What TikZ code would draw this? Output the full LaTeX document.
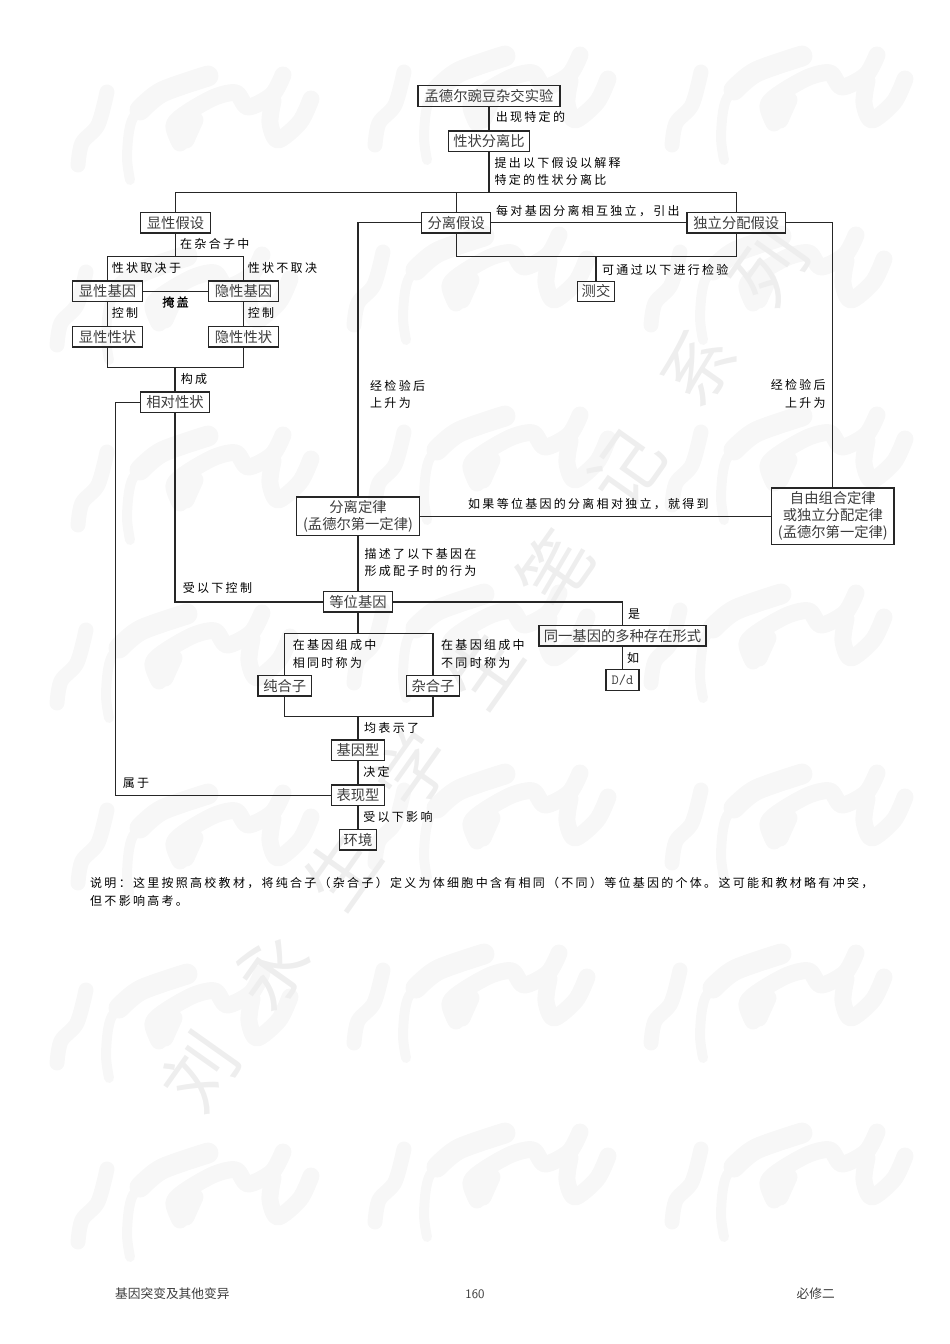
\documentclass[tikz,border=0pt]{standalone}
\usepackage{fontspec}
\setmainfont{Liberation Serif}
\newfontfamily\cjkbox{Noto Sans CJK SC}
\newfontfamily\cjklbl[LetterSpace=19]{Noto Sans CJK SC}
\newfontfamily\cjkbold[LetterSpace=19,FakeBold=1.2]{Noto Sans CJK SC}
\newfontfamily\cjkmark[LetterSpace=71]{Noto Sans CJK SC}
\usetikzlibrary{positioning,calc}
\definecolor{inkbox}{HTML}{3C3C3C}
\definecolor{markgray}{HTML}{F7F7F7}
\definecolor{textmark}{HTML}{EEEEEE}
\tikzset{
    box/.style={draw=black!85, line width=1.4pt, inner sep=0pt, outer sep=0pt, minimum height=20.5pt, align=center,
        text=inkbox, font={\fontsize{14.3}{17}\cjkbox}},
    lbl/.style={inner sep=0pt, align=left, text height=9.5pt, text depth=2pt,
        font={\fontsize{12}{17.5}\cjklbl}},
    lbltwo/.style={lbl, text height=27pt},
    link/.style={draw=black!85, line width=1.2pt},
    stroke/.style={draw=markgray, line width=17pt, line cap=round, line join=round},
    seal/.pic={
        \draw[stroke, line width=15pt] plot[smooth] coordinates {(37,-27) (28,-60) (12,-78) (8,-100)};
        \draw[stroke, line width=10pt] plot[smooth] coordinates {(60,-115) (57,-90) (63,-53) (92,-28)};
        \draw[stroke, line width=21pt] plot[smooth] coordinates {(70,-45) (92,-27) (138,-11)};
        \draw[stroke] plot[smooth] coordinates {(110,-78) (104,-60) (118,-47) (145,-32) (166,-28) (178,-42) (202,-30) (213,-10)};
        \draw[stroke] plot[smooth] coordinates {(116,-75) (125,-55)};
        \draw[stroke] plot[smooth] coordinates {(241,-34) (230,-57) (208,-75) (200,-58) (203,-36)};
    }
}

\begin{document}
\begin{tikzpicture}[x=1pt, y=1pt]
    \useasboundingbox (0,0) rectangle (950,-1344);

    % background marks
    \foreach \r/\rowy/\shifta in {0/45/70, 1/225/49, 2/405/70, 3/583/49, 4/763/70, 5/943/49, 6/1122/70}{
        \foreach \c in {0,1,2}{
            \pgfmathsetmacro{\colx}{\shifta+297*\c}
            \pgfmathsetmacro{\coly}{\rowy+(\c==0 ? 20 : 0)}
            \pic at (\colx,-\coly) {seal};
        }
    }
    \node[rotate=54.7, text=textmark, font={\fontsize{72}{72}\cjkmark}] (series) at (484,-669) {刘永生学生笔记系列};

    % upper part
    \node[box, minimum width=142pt] (pea) at (489,-96) {孟德尔豌豆杂交实验};
    \node[box, minimum width=81pt, below=24.7pt of pea] (ratio) {性状分离比};
    \coordinate[below=41.3pt of ratio] (bustop);

    \node[box, minimum width=70pt, below=19.7pt of bustop, xshift=-313.5pt] (domhyp) {显性假设};
    \node[box, minimum width=69pt, below=19.7pt of bustop, xshift=-32.8pt] (seghyp) {分离假设};
    \node[box, minimum width=98.7pt, below=19.7pt of bustop, xshift=247.3pt] (indhyp) {独立分配假设};

    \coordinate[below=23.7pt of seghyp] (buslow);
    \node[box, minimum width=37pt, below=24.6pt of buslow, xshift=139.8pt] (testx) {测交};

    % dominant and recessive
    \coordinate[below=23.7pt of domhyp] (busdom);
    \node[box, minimum width=70pt, below=24.3pt of busdom, xshift=-68pt] (domgene) {显性基因};
    \node[box, minimum width=70pt, below=24.3pt of busdom, xshift=68pt] (recgene) {隐性基因};
    \node[box, minimum width=70pt, below=25pt of domgene] (domtrait) {显性性状};
    \node[box, minimum width=70pt, below=25pt of recgene] (rectrait) {隐性性状};
    \coordinate[below=20.7pt of domtrait, xshift=67.5pt] (bustrait);
    \node[box, minimum width=69.5pt, below=24.4pt of bustrait] (pair) {相对性状};
    \coordinate[left=24.6pt of pair.west] (pairleft);

    % laws
    \node[box, minimum width=122.6pt, minimum height=38.7pt, below=264pt of seghyp, xshift=-98.2pt] (seglaw) {分离定律\\(孟德尔第一定律)};
    \node[box, minimum width=122.3pt, minimum height=56.7pt, right=352.4pt of seglaw] (indlaw) {自由组合定律\\或独立分配定律\\(孟德尔第一定律)};

    % alleles
    \node[box, minimum width=69pt, below=56pt of seglaw] (allele) {等位基因};
    \node[box, minimum width=166.7pt, below=13.4pt of allele, xshift=264.5pt] (sameg) {同一基因的多种存在形式};
    \node[box, minimum width=33pt, below=23.7pt of sameg, font={\fontsize{14}{16}\ttfamily}] (dd) {D/d};
    \coordinate[below=21.7pt of allele] (buspure);
    \node[box, minimum width=53.5pt, below=41.7pt of buspure, xshift=-73.3pt] (homo) {纯合子};
    \node[box, minimum width=53.5pt, below=41.7pt of buspure, xshift=75pt] (hetero) {杂合子};
    \coordinate[below=20.7pt of homo, xshift=73.3pt] (busgeno);
    \node[box, minimum width=53pt, below=23.3pt of busgeno] (geno) {基因型};
    \node[box, minimum width=53pt, below=24.6pt of geno] (pheno) {表现型};
    \node[box, minimum width=37pt, below=24pt of pheno] (env) {环境};
    \coordinate (paircorner) at (pair.south |- allele.west);
    \coordinate (phenocorner) at (pairleft |- pheno.west);

    % connectors
    \draw[link] (pea) -- (ratio);
    \draw[link] (ratio) -- (bustop);
    \draw[link] (domhyp.north) |- (bustop) -| (indhyp.north);
    \draw[link] (seghyp.north) -- (seghyp.north |- bustop);
    \draw[link] (seghyp) -- (indhyp);
    \draw[link] (seghyp.south) -- (buslow) -| (indhyp.south);
    \draw[link] (testx.north) -- (testx.north |- buslow);
    \draw[link] (seghyp.west) -| (seglaw.north);
    \draw[link] (indhyp.east) -| (indlaw.north);
    \draw[link] (domhyp.south) -- (busdom);
    \draw[link] (domgene.north) |- (busdom) -| (recgene.north);
    \draw[link] (domgene) -- (recgene);
    \draw[link] (domgene) -- (domtrait);
    \draw[link] (recgene) -- (rectrait);
    \draw[link] (domtrait.south) |- (bustrait) -| (rectrait.south);
    \draw[link] (bustrait) -- (pair.north);
    \draw[link] (pair.west) -- (pairleft) -- (phenocorner) -- (pheno.west);
    \draw[link] (pair.south) -- (paircorner) -- (allele.west);
    \draw[link] (seglaw) -- (indlaw);
    \draw[link] (seglaw) -- (allele);
    \draw[link] (allele.east) -| (sameg.north);
    \draw[link] (sameg) -- (dd);
    \draw[link] (allele.south) -- (buspure);
    \draw[link] (homo.north) |- (buspure) -| (hetero.north);
    \draw[link] (homo.south) |- (busgeno) -| (hetero.south);
    \draw[link] (busgeno) -- (geno.north);
    \draw[link] (geno) -- (pheno);
    \draw[link] (pheno) -- (env);

    % labels
    \node[lbl, below right=5.7pt and 6.7pt of pea.south] (lblappear) {出现特定的};
    \node[lbltwo, below right=6pt and 5.3pt of ratio.south] (lblpropose) {提出以下假设以解释\\特定的性状分离比};
    \node[lbl, above right=5.5pt and 5.3pt of seghyp.east] (lbleach) {每对基因分离相互独立，引出};
    \node[lbl, above right=4.3pt and 6pt of testx.north] (lbltest) {可通过以下进行检验};
    \node[lbl, below right=5.5pt and 4.5pt of domhyp.south] (lblhetero) {在杂合子中};
    \node[lbl, above right=6.5pt and 4.2pt of domgene.north] (lbldepend) {性状取决于};
    \node[lbl, above right=6.5pt and 4.2pt of recgene.north] (lblnotdep) {性状不取决};
    \node[lbl, below right=6.7pt and 4.2pt of domgene.south] (lblctrla) {控制};
    \node[lbl, below right=6.7pt and 4.2pt of recgene.south] (lblctrlb) {控制};
    \node[lbl, below=5.7pt of $(domgene.east)!.5!(recgene.west)$, font={\fontsize{12}{17}\cjkbold}] (lblcover) {掩盖};
    \node[lbl, above right=6.2pt and 5.7pt of pair.north] (lblform) {构成};
    \node[lbltwo, above right=87pt and 12pt of seglaw.north] (lblriseb) {经检验后\\上升为};
    \node[lbltwo, above left=78.3pt and 7pt of indlaw.north, align=right] (lblrisea) {经检验后\\上升为};
    \node[lbl, above right=5.7pt and 48.7pt of seglaw.east] (lblif) {如果等位基因的分离相对独立，就得到};
    \node[lbltwo, below right=13pt and 6.3pt of seglaw.south] (lbldescribe) {描述了以下基因在\\形成配子时的行为};
    \node[lbl, above right=7pt and 7.7pt of paircorner] (lblcontrol) {受以下控制};
    \node[lbl, above right=5.2pt and 5.3pt of sameg.north] (lblis) {是};
    \node[lbl, below right=6.7pt and 4.3pt of sameg.south] (lbllike) {如};
    \node[lbltwo, above right=6pt and 8pt of homo.north] (lblsame) {在基因组成中\\相同时称为};
    \node[lbltwo, above right=6pt and 8pt of hetero.north] (lbldiff) {在基因组成中\\不同时称为};
    \node[lbl, below right=6.3pt and 6pt of busgeno] (lblshow) {均表示了};
    \node[lbl, below right=6.3pt and 5.2pt of geno.south] (lbldecide) {决定};
    \node[lbl, above right=6pt and 7pt of phenocorner] (lblbelong) {属于};
    \node[lbl, below right=6.3pt and 5.2pt of pheno.south] (lblaffect) {受以下影响};

    % page text
    \node[lbltwo, anchor=north west] (note) at (90,-878) {说明：这里按照高校教材，将纯合子（杂合子）定义为体细胞中含有相同（不同）等位基因的个体。这可能和教材略有冲突，\\但不影响高考。};
    \node[anchor=west, inner sep=0pt, text=inkbox, font={\fontsize{12.7}{15}\cjkbox}] (footl) at (115,-1294) {基因突变及其他变异};
    \node[inner sep=0pt, text=inkbox, font={\fontsize{13}{15}\sffamily}] (footc) at (475,-1294) {160};
    \node[anchor=east, inner sep=0pt, text=inkbox, font={\fontsize{12.7}{15}\cjkbox}] (footr) at (835,-1294) {必修二};
\end{tikzpicture}
\end{document}
